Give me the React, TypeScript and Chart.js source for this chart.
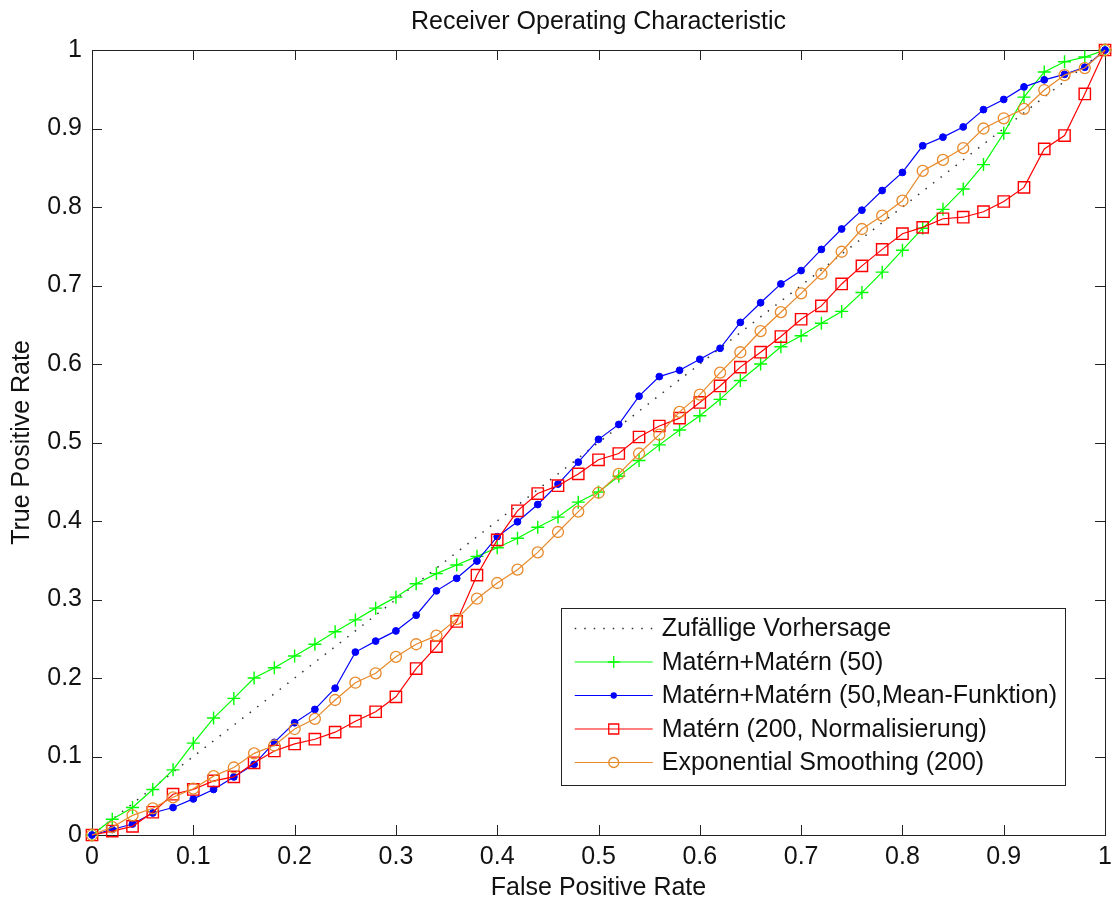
import React, { useEffect, useRef } from "react";
import { Chart, registerables } from "chart.js";

Chart.register(...registerables);

const FONT = '"Liberation Sans", Arial, Helvetica, sans-serif';
const TEXT_COLOR = "#111";
const FONT_SIZE = 25;

// False positive rate grid shared by all curves
const falsePositiveRate = [
  0, 0.02, 0.04, 0.06, 0.08, 0.1, 0.12, 0.14, 0.16, 0.18,
  0.2, 0.22, 0.24, 0.26, 0.28, 0.3, 0.32, 0.34, 0.36, 0.38,
  0.4, 0.42, 0.44, 0.46, 0.48, 0.5, 0.52, 0.54, 0.56, 0.58,
  0.6, 0.62, 0.64, 0.66, 0.68, 0.7, 0.72, 0.74, 0.76, 0.78,
  0.8, 0.82, 0.84, 0.86, 0.88, 0.9, 0.92, 0.94, 0.96, 0.98, 1,
];

// Random classifier reference line
const randomFpr = [0, 1];
const randomTpr = [0, 1];

// Matérn+Matérn (50)
const tprMaternMatern50 = [
  0, 0.02, 0.035, 0.058, 0.083, 0.117, 0.149, 0.174, 0.2, 0.213,
  0.228, 0.243, 0.259, 0.274, 0.289, 0.303, 0.32, 0.333, 0.344, 0.355,
  0.366, 0.378, 0.392, 0.405, 0.424, 0.437, 0.457, 0.477, 0.497, 0.516,
  0.534, 0.555, 0.579, 0.6, 0.622, 0.636, 0.652, 0.667, 0.691, 0.717,
  0.745, 0.773, 0.797, 0.823, 0.854, 0.894, 0.94, 0.972, 0.985, 0.991, 1,
];

// Matérn+Matérn (50, Mean-Funktion)
const tprMaternMaternMean = [
  0, 0.007, 0.014, 0.028, 0.035, 0.046, 0.058, 0.074, 0.09, 0.118,
  0.143, 0.16, 0.187, 0.233, 0.247, 0.26, 0.28, 0.311, 0.327, 0.349,
  0.38, 0.399, 0.421, 0.447, 0.475, 0.504, 0.523, 0.559, 0.584, 0.592,
  0.606, 0.62, 0.653, 0.678, 0.702, 0.719, 0.746, 0.772, 0.796, 0.821,
  0.844, 0.878, 0.889, 0.902, 0.924, 0.937, 0.953, 0.962, 0.969, 0.978, 1,
];

// Matérn (200, Normalisierung)
const tprMatern200Norm = [
  0, 0.005, 0.011, 0.029, 0.052, 0.058, 0.069, 0.074, 0.092, 0.107,
  0.116, 0.122, 0.131, 0.145, 0.157, 0.176, 0.212, 0.24, 0.272, 0.331,
  0.376, 0.413, 0.435, 0.445, 0.46, 0.478, 0.486, 0.507, 0.521, 0.531,
  0.551, 0.572, 0.596, 0.615, 0.635, 0.657, 0.674, 0.702, 0.725, 0.746,
  0.766, 0.774, 0.785, 0.787, 0.794, 0.807, 0.825, 0.874, 0.891, 0.944, 1,
];

// Exponential Smoothing (200)
const tprExpSmoothing200 = [
  0, 0.01, 0.025, 0.034, 0.048, 0.059, 0.075, 0.086, 0.104, 0.114,
  0.135, 0.148, 0.172, 0.194, 0.206, 0.227, 0.243, 0.254, 0.275, 0.301,
  0.321, 0.338, 0.36, 0.386, 0.412, 0.436, 0.46, 0.486, 0.51, 0.539,
  0.561, 0.589, 0.615, 0.642, 0.666, 0.69, 0.715, 0.743, 0.772, 0.789,
  0.808, 0.846, 0.86, 0.875, 0.9, 0.913, 0.925, 0.949, 0.968, 0.977, 1,
];

const xTickValues = [0, 0.1, 0.2, 0.3, 0.4, 0.5, 0.6, 0.7, 0.8, 0.9, 1];
const xTickLabels = ["0", "0.1", "0.2", "0.3", "0.4", "0.5", "0.6", "0.7", "0.8", "0.9", "1"];
const yTickValues = [0, 0.1, 0.2, 0.3, 0.4, 0.5, 0.6, 0.7, 0.8, 0.9, 1];
const yTickLabels = ["0", "0.1", "0.2", "0.3", "0.4", "0.5", "0.6", "0.7", "0.8", "0.9", "1"];

const toPoints = (xs: number[], ys: number[]) => xs.map((x, i) => ({ x, y: ys[i] }));

// Draws a marker glyph in the legend, mirroring the dataset point style
function drawLegendMarker(
  ctx: CanvasRenderingContext2D,
  style: string,
  x: number,
  y: number,
  r: number,
  color: string,
  filled: boolean
) {
  ctx.save();
  ctx.strokeStyle = color;
  ctx.fillStyle = color;
  ctx.lineWidth = 1.3;
  ctx.setLineDash([]);
  ctx.beginPath();
  if (style === "cross") {
    ctx.moveTo(x, y - r);
    ctx.lineTo(x, y + r);
    ctx.moveTo(x - r, y);
    ctx.lineTo(x + r, y);
    ctx.stroke();
  } else if (style === "rect") {
    ctx.rect(x - r, y - r, 2 * r, 2 * r);
    if (filled) ctx.fill();
    ctx.stroke();
  } else {
    ctx.arc(x, y, r, 0, Math.PI * 2);
    if (filled) ctx.fill();
    ctx.stroke();
  }
  ctx.restore();
}

// Box around the plot area with inward ticks on all four sides
const axesBoxPlugin = {
  id: "axesBox",
  beforeDatasetsDraw(chart: any) {
    const { ctx, chartArea, scales } = chart;
    const { left, right, top, bottom } = chartArea;
    const tickLen = 10;
    ctx.save();
    ctx.strokeStyle = "#222";
    ctx.lineWidth = 1;
    ctx.setLineDash([]);
    ctx.strokeRect(Math.round(left) + 0.5, Math.round(top) + 0.5, Math.round(right - left), Math.round(bottom - top));
    ctx.beginPath();
    xTickValues.forEach((v) => {
      const px = Math.round(scales.x.getPixelForValue(v)) + 0.5;
      ctx.moveTo(px, bottom);
      ctx.lineTo(px, bottom - tickLen);
      ctx.moveTo(px, top);
      ctx.lineTo(px, top + tickLen);
    });
    yTickValues.forEach((v) => {
      const py = Math.round(scales.y.getPixelForValue(v)) + 0.5;
      ctx.moveTo(left, py);
      ctx.lineTo(left + tickLen, py);
      ctx.moveTo(right, py);
      ctx.lineTo(right - tickLen, py);
    });
    ctx.stroke();
    ctx.restore();
  },
};

// Boxed legend in the lower right corner of the plot area
const boxLegendPlugin = {
  id: "boxLegend",
  afterDraw(chart: any) {
    const { ctx, chartArea } = chart;
    const datasets = chart.data.datasets;
    const rowH = 33.5;
    ctx.save();
    ctx.font = `${FONT_SIZE}px ${FONT}`;
    let maxText = 0;
    datasets.forEach((ds: any) => {
      maxText = Math.max(maxText, ctx.measureText(ds.label).width);
    });
    const right = chartArea.right - 40;
    const bottom = chartArea.bottom - 51;
    const width = 101 + maxText + 8;
    const height = rowH * datasets.length + 9;
    const left = right - width;
    const top = bottom - height;
    ctx.fillStyle = "#fff";
    ctx.fillRect(left, top, width, height);
    ctx.strokeStyle = "#222";
    ctx.lineWidth = 1;
    ctx.strokeRect(Math.round(left) + 0.5, Math.round(top) + 0.5, Math.round(width), Math.round(height));

    datasets.forEach((ds: any, i: number) => {
      const y = top + 21 + i * rowH;
      ctx.save();
      ctx.strokeStyle = ds.borderColor;
      ctx.lineWidth = ds.borderDash ? 1.5 : 1.2;
      ctx.setLineDash(ds.borderDash || []);
      ctx.beginPath();
      ctx.moveTo(left + 14, y);
      ctx.lineTo(left + 92, y);
      ctx.stroke();
      ctx.restore();
      if (ds.pointRadius > 0) {
        const filled = ds.pointBackgroundColor && ds.pointBackgroundColor !== "transparent";
        const r = ds.pointStyle === "rect" ? 5 : ds.pointStyle === "cross" ? 6 : ds.pointRadius > 4 ? 5 : 2.5;
        drawLegendMarker(ctx, ds.pointStyle, left + 53, y, r, ds.borderColor, !!filled);
      }
      ctx.fillStyle = TEXT_COLOR;
      ctx.textAlign = "left";
      ctx.textBaseline = "middle";
      ctx.fillText(ds.label, left + 101, y + 1);
    });
    ctx.restore();
  },
};

export default function App() {
  const canvasRef = useRef<HTMLCanvasElement | null>(null);

  useEffect(() => {
    document.body.style.margin = "0";
    const canvas = canvasRef.current;
    if (!canvas) return;

    const chart = new Chart(canvas, {
      type: "line",
      data: {
        datasets: [
          {
            label: "Zufällige Vorhersage",
            data: toPoints(randomFpr, randomTpr),
            borderColor: "#333",
            borderWidth: 1.5,
            borderDash: [1.5, 8],
            pointRadius: 0,
            order: 4,
          },
          {
            label: "Matérn+Matérn (50)",
            data: toPoints(falsePositiveRate, tprMaternMatern50),
            borderColor: "#00ff00",
            borderWidth: 1.2,
            pointStyle: "cross",
            pointRadius: 6.5,
            pointBorderWidth: 1.4,
            pointBorderColor: "#00ff00",
            pointBackgroundColor: "transparent",
            order: 3,
          },
          {
            label: "Matérn+Matérn (50,Mean-Funktion)",
            data: toPoints(falsePositiveRate, tprMaternMaternMean),
            borderColor: "#0000ff",
            borderWidth: 1.2,
            pointStyle: "circle",
            pointRadius: 3.4,
            pointBorderWidth: 1,
            pointBorderColor: "#0000ff",
            pointBackgroundColor: "#0000ff",
            order: 2,
          },
          {
            label: "Matérn (200, Normalisierung)",
            data: toPoints(falsePositiveRate, tprMatern200Norm),
            borderColor: "#ff0000",
            borderWidth: 1.2,
            pointStyle: "rect",
            pointRadius: 8,
            pointBorderWidth: 1.4,
            pointBorderColor: "#ff0000",
            pointBackgroundColor: "transparent",
            order: 1,
          },
          {
            label: "Exponential Smoothing (200)",
            data: toPoints(falsePositiveRate, tprExpSmoothing200),
            borderColor: "#e8892a",
            borderWidth: 1.2,
            pointStyle: "circle",
            pointRadius: 5.5,
            pointBorderWidth: 1.3,
            pointBorderColor: "#e8892a",
            pointBackgroundColor: "transparent",
            order: 0,
          },
        ],
      },
      options: {
        animation: false,
        responsive: false,
        devicePixelRatio: 1,
        events: [],
        clip: false,
        layout: { padding: { left: 0, right: 7, top: 0, bottom: 0 } },
        elements: { line: { tension: 0 } },
        plugins: {
          legend: { display: false },
          tooltip: { enabled: false },
          title: {
            display: true,
            fullSize: false,
            text: "Receiver Operating Characteristic",
            color: TEXT_COLOR,
            font: { family: FONT, size: FONT_SIZE, weight: "normal", lineHeight: 1.2 },
            padding: { top: 7, bottom: 13 },
          },
        },
        scales: {
          x: {
            type: "linear",
            min: 0,
            max: 1,
            afterBuildTicks: (scale: any) => {
              scale.ticks = xTickValues.map((value) => ({ value }));
            },
            afterFit: (scale: any) => {
              scale.height = 68;
            },
            ticks: {
              autoSkip: false,
              maxRotation: 0,
              padding: 7,
              color: TEXT_COLOR,
              font: { family: FONT, size: FONT_SIZE },
              callback: (_v: any, i: number) => xTickLabels[i],
            },
            grid: { display: false, drawTicks: false },
            border: { display: false },
            title: {
              display: true,
              text: "False Positive Rate",
              color: TEXT_COLOR,
              font: { family: FONT, size: FONT_SIZE, lineHeight: 1.2 },
              padding: { top: 0, bottom: 0 },
            },
          },
          y: {
            type: "linear",
            min: 0,
            max: 1,
            afterBuildTicks: (scale: any) => {
              scale.ticks = yTickValues.map((value) => ({ value }));
            },
            afterFit: (scale: any) => {
              scale.width = 92;
            },
            ticks: {
              autoSkip: false,
              padding: 10,
              color: TEXT_COLOR,
              font: { family: FONT, size: FONT_SIZE },
              callback: (_v: any, i: number) => yTickLabels[i],
            },
            grid: { display: false, drawTicks: false },
            border: { display: false },
            title: {
              display: true,
              text: "True Positive Rate",
              color: TEXT_COLOR,
              font: { family: FONT, size: FONT_SIZE, lineHeight: 1.2 },
              padding: { top: 7, bottom: 0 },
            },
          },
        },
      },
      plugins: [axesBoxPlugin, boxLegendPlugin],
    } as any);

    return () => {
      chart.destroy();
    };
  }, []);

  return (
    <div style={{ width: 1119, height: 903, background: "#fff" }}>
      <canvas ref={canvasRef} width={1119} height={903} style={{ display: "block" }} />
    </div>
  );
}
